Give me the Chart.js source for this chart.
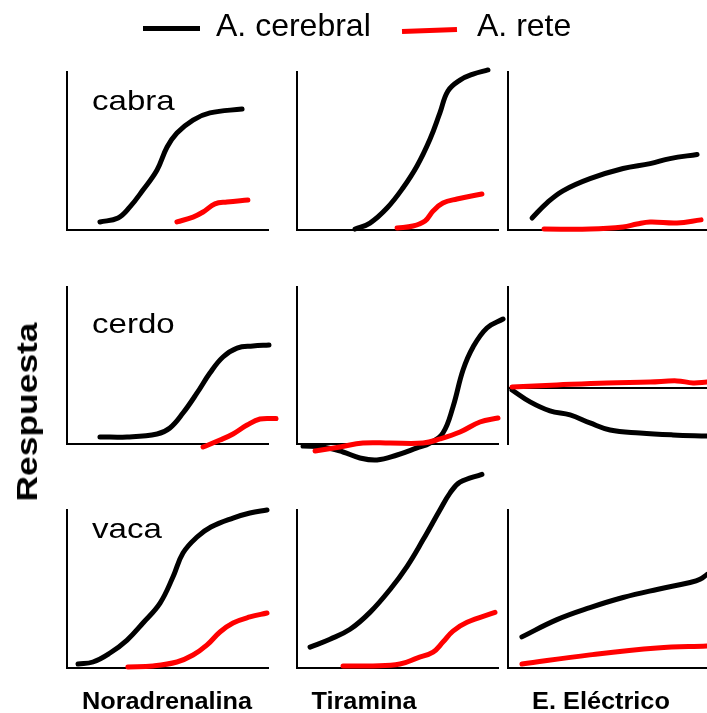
<!DOCTYPE html>
<html><head><meta charset="utf-8">
<script src="https://cdn.jsdelivr.net/npm/chart.js@4"></script>
<style>
html,body{margin:0;padding:0;background:#fff;}
#wrap{position:relative;width:707px;height:713px;overflow:hidden;font-family:"Liberation Sans",Arial,sans-serif;color:#000;}
canvas{position:absolute;left:0;top:0;}
.t{position:absolute;white-space:nowrap;line-height:1;}
</style></head><body><div id="wrap"></div>
<script>
// ---- categories / labels ----
const seriesNames = ['A. cerebral', 'A. rete'];
const animals = ['cabra', 'cerdo', 'vaca'];
const agents = ['Noradrenalina', 'Tiramina', 'E. Eléctrico'];
const yAxisTitle = 'Respuesta';

// ---- series values: [x (dose, % of axis), y (response, % of axis)] ----
const cabraNoraCerebral = [[16.4,5.1],[25.4,7.6],[31.3,14.6],[37.8,25.3],[44.8,38.0],[49.8,52.5],[54.7,61.4],[62.7,69.6],[71.1,74.1],[87.1,76.6]];
const cabraNoraRete     = [[54.7,5.1],[62.7,8.2],[67.7,11.4],[73.6,16.5],[79.6,17.7],[90.0,19.0]];
const cabraTiraCerebral = [[28.9,0.6],[36.3,4.4],[44.8,13.9],[52.7,26.6],[59.7,40.5],[66.2,57.6],[71.1,74.1],[75.1,88.0],[81.1,94.9],[87.6,98.7],[95.0,101.3]];
const cabraTiraRete     = [[49.8,1.3],[57.7,2.5],[63.7,5.7],[67.7,12.0],[72.6,17.1],[79.6,19.6],[92.0,22.8]];
const cabraElecCerebral = [[12.1,7.6],[19.6,17.2],[27.6,24.8],[41.2,32.5],[57.8,38.9],[71.4,42.0],[81.4,45.2],[95.0,47.8]];
const cabraElecRete     = [[18.1,0.6],[41.2,0.6],[57.8,1.9],[64.8,3.8],[71.4,5.1],[84.9,4.5],[97.0,6.4]];

const cerdoNoraCerebral = [[16.4,4.5],[29.9,4.5],[44.8,6.4],[51.2,10.2],[57.7,19.7],[64.7,32.5],[71.1,45.2],[77.6,55.4],[84.6,61.1],[92.5,62.4],[100.5,63.1]];
const cerdoNoraRete     = [[67.7,-1.9],[76.1,2.5],[82.6,6.4],[89.6,12.1],[96.0,15.9],[104.0,16.2]];
const cerdoTiraCerebral = [[3.0,-1.3],[12.9,-1.9],[22.9,-5.1],[31.3,-8.9],[39.8,-10.2],[49.8,-7.0],[59.7,-2.5],[66.2,0.6],[72.6,7.0],[77.6,23.6],[82.6,47.1],[87.6,61.8],[94.5,73.9],[102.5,79.6]];
const cerdoTiraRete     = [[9.0,-4.5],[21.4,-1.9],[32.8,0.6],[46.3,0.6],[62.7,0.6],[71.1,3.2],[81.1,7.6],[91.0,14.0],[100.0,16.6]];
const cerdoElecCerebral = [[2.0,-1.3],[11.1,-8.9],[21.1,-14.6],[31.2,-17.2],[41.2,-22.3],[51.3,-26.8],[66.3,-28.7],[82.9,-29.9],[100.0,-30.6]];
const cerdoElecRete     = [[2.0,0.6],[24.6,1.9],[49.7,3.2],[71.4,3.8],[84.9,4.5],[93.0,3.2],[100.0,3.8]];

const vacaNoraCerebral  = [[5.5,2.5],[12.9,3.8],[21.4,9.5],[29.9,17.7],[37.8,28.5],[46.3,41.1],[52.7,57.6],[57.7,72.8],[64.7,82.9],[71.6,89.2],[82.6,94.9],[91.0,98.1],[99.5,100.0]];
const vacaNoraRete      = [[30.3,0.6],[42.8,1.3],[54.7,3.8],[62.7,8.2],[69.7,14.6],[76.1,22.8],[82.6,28.5],[91.0,32.3],[99.5,34.8]];
const vacaTiraCerebral  = [[6.5,13.2],[16.4,18.2],[26.4,24.5],[36.3,35.2],[46.3,49.7],[54.7,64.2],[62.7,81.1],[71.1,100.0],[76.1,110.7],[81.1,117.6],[92.0,122.6]];
const vacaTiraRete      = [[22.9,1.3],[37.8,1.3],[51.2,2.5],[59.7,6.3],[67.7,10.1],[72.6,16.4],[77.6,23.3],[84.6,28.9],[98.5,35.2]];
const vacaElecCerebral  = [[7.0,19.7],[24.6,30.6],[41.2,38.2],[57.8,44.6],[74.9,49.7],[91.5,54.1],[96.5,56.1],[100.0,59.2]];
const vacaElecRete      = [[7.0,2.5],[41.2,8.3],[74.9,12.7],[100.0,14.0]];

// y-axis ranges per panel (row, col); the cerdo / E. Eléctrico panel has its zero line inside
const yRanges = [
  [[0,100],[0,100],[0,100]],
  [[0,100],[0,100],[-35.7,64.3]],
  [[0,100],[0,100],[0,100]]
];

const panelData = [
  [[cabraNoraCerebral, cabraNoraRete], [cabraTiraCerebral, cabraTiraRete], [cabraElecCerebral, cabraElecRete]],
  [[cerdoNoraCerebral, cerdoNoraRete], [cerdoTiraCerebral, cerdoTiraRete], [cerdoElecCerebral, cerdoElecRete]],
  [[vacaNoraCerebral,  vacaNoraRete],  [vacaTiraCerebral,  vacaTiraRete],  [vacaElecCerebral,  vacaElecRete]]
];

// ---- layout (pixels) ----
const W = 707, H = 713;
const colBox = [[67,268],[297,498],[508,707]];
const rowBox = [[72,230],[287,444],[510,668]];
const colors = ['#000000', '#ff0000'];

const wrap = document.getElementById('wrap');
const toPts = arr => arr.map(p => ({x: p[0], y: p[1]}));

for (let r = 0; r < 3; r++) {
  for (let c = 0; c < 3; c++) {
    const cv = document.createElement('canvas');
    cv.width = W; cv.height = H;
    wrap.appendChild(cv);
    const [ymin, ymax] = yRanges[r][c];
    const axisBase = {
      type: 'linear',
      ticks: {display: false},
      grid: {display: false, drawTicks: false},
      border: {display: true, color: '#000', width: 2}
    };
    new Chart(cv, {
      type: 'line',
      data: {
        datasets: panelData[r][c].map((d, i) => ({
          label: seriesNames[i],
          data: toPts(d),
          borderColor: colors[i],
          borderWidth: 5,
          pointRadius: 0,
          tension: 0.4,
          borderCapStyle: 'round',
          borderJoinStyle: 'round',
          clip: false,
          order: i === 1 ? 0 : 1,
          fill: false
        }))
      },
      options: {
        responsive: false,
        animation: false,
        devicePixelRatio: 1,
        events: [],
        elements: {line: {capBezierPoints: false}},
        layout: {padding: {left: colBox[c][0], right: W - colBox[c][1], top: rowBox[r][0], bottom: H - rowBox[r][1]}},
        plugins: {legend: {display: false}, tooltip: {enabled: false}},
        scales: {
          x: Object.assign({}, axisBase, {min: 0, max: 100, position: (ymin < 0 ? {y: 0} : 'bottom')}),
          y: Object.assign({}, axisBase, {min: ymin, max: ymax, position: 'left'})
        }
      }
    });
  }
}

// ---- text ----
function addText(txt, style) {
  const d = document.createElement('div');
  d.className = 't';
  d.textContent = txt;
  Object.assign(d.style, style);
  wrap.appendChild(d);
  return d;
}
// legend
const legSw = [[143,26,57,0],[402,27.5,55,-2]];
const legTx = [216, 477];
for (let i = 0; i < 2; i++) {
  const s = document.createElement('div');
  Object.assign(s.style, {position:'absolute', left: legSw[i][0]+'px', top: legSw[i][1]+'px', width: legSw[i][2]+'px', height:'5px', background: colors[i], transform: 'rotate(' + legSw[i][3] + 'deg)'});
  wrap.appendChild(s);
  addText(seriesNames[i], {left: legTx[i]+'px', top: '9px', fontSize: '32px'});
}
// animal labels
const animalTop = [87, 310, 515];
for (let r = 0; r < 3; r++) {
  addText(animals[r], {left: '92px', top: animalTop[r]+'px', fontSize: '28px', transformOrigin: 'left center', transform: 'scaleX(1.18)'});
}
// agent labels
const agentCx = [167, 364, 601];
for (let c = 0; c < 3; c++) {
  addText(agents[c], {left: agentCx[c]+'px', top: '690px', fontSize: '23px', fontWeight: 'bold', transform: 'translateX(-50%) scaleX(1.1)'});
}
// y title
addText(yAxisTitle, {left: '27px', top: '412px', fontSize: '30px', fontWeight: 'bold', transform: 'translate(-50%,-50%) rotate(-90deg) scaleX(1.18)'});
</script></body></html>
